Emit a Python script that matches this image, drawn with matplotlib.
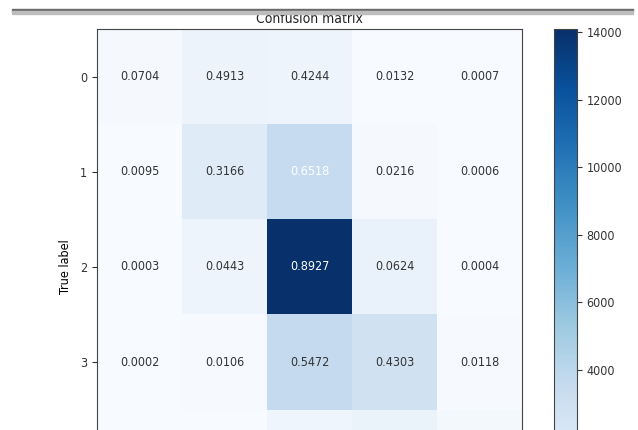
import numpy as np
import matplotlib
matplotlib.use("Agg")
import matplotlib.pyplot as plt
from matplotlib.patches import Rectangle

plt.rcParams["font.family"] = ["DejaVu Sans"]
plt.rcParams["font.stretch"] = "condensed"

# Class labels
classes = ["0", "1", "2", "3", "4"]

# Row-normalised confusion matrix (fraction of each true class)
norm_row0 = [0.0704, 0.4913, 0.4244, 0.0132, 0.0007]
norm_row1 = [0.0095, 0.3166, 0.6518, 0.0216, 0.0006]
norm_row2 = [0.0003, 0.0443, 0.8927, 0.0624, 0.0004]
norm_row3 = [0.0002, 0.0106, 0.5472, 0.4303, 0.0118]
norm_row4 = [0.0011, 0.0061, 0.3222, 0.5094, 0.1612]

# Number of samples per true class
row_totals = [1600, 5370, 15782, 6500, 1800]

# Colourbar tick values
cbar_ticks = [4000, 6000, 8000, 10000, 12000, 14000]

# Rows that carry a printed value
labelled_rows = 4

norm = np.array([norm_row0, norm_row1, norm_row2, norm_row3, norm_row4])
counts = norm * np.array(row_totals)[:, None]

W, H = 638, 430
fig = plt.figure(figsize=(W / 100, H / 100), dpi=100)
fig.patch.set_facecolor("white")


def px_axes(left, top, right, bottom):
    return [left / W, 1 - bottom / H, (right - left) / W, (bottom - top) / H]


ax = fig.add_axes(px_axes(97, 29, 522, 505))
cax = fig.add_axes(px_axes(554, 29, 577, 505))

im = ax.imshow(counts, cmap="Blues", aspect="auto", interpolation="nearest")

for i in range(labelled_rows):
    for j in range(norm.shape[1]):
        ax.text(j, i, f"{norm[i, j]:.4f}", ha="center", va="center",
                fontsize=9, color="white" if norm[i, j] > 0.6 else "#333333")

ax.set_title("Confusion matrix", fontsize=10, pad=4, color="#222222")
ax.set_xticks([])
ax.set_yticks(range(labelled_rows))
ax.set_yticklabels(classes[:labelled_rows])
ax.set_ylabel("True label", fontsize=9, labelpad=6)
ax.tick_params(labelsize=9, colors="#333333")
for s in ax.spines.values():
    s.set_color("#444444")

cb = fig.colorbar(im, cax=cax, ticks=cbar_ticks)
cb.ax.tick_params(labelsize=9, colors="#333333")
cb.outline.set_edgecolor("#444444")

# thin shaded rule across the top of the canvas
fig.add_artist(Rectangle((12 / W, 1 - 11 / H), 621 / W, 2 / H,
                         transform=fig.transFigure, color="#6a6a6a", zorder=10))
fig.add_artist(Rectangle((12 / W, 1 - 14 / H), 621 / W, 3 / H,
                         transform=fig.transFigure, color="#bdbdbd", zorder=10))

fig.savefig("out.png", dpi=100)
